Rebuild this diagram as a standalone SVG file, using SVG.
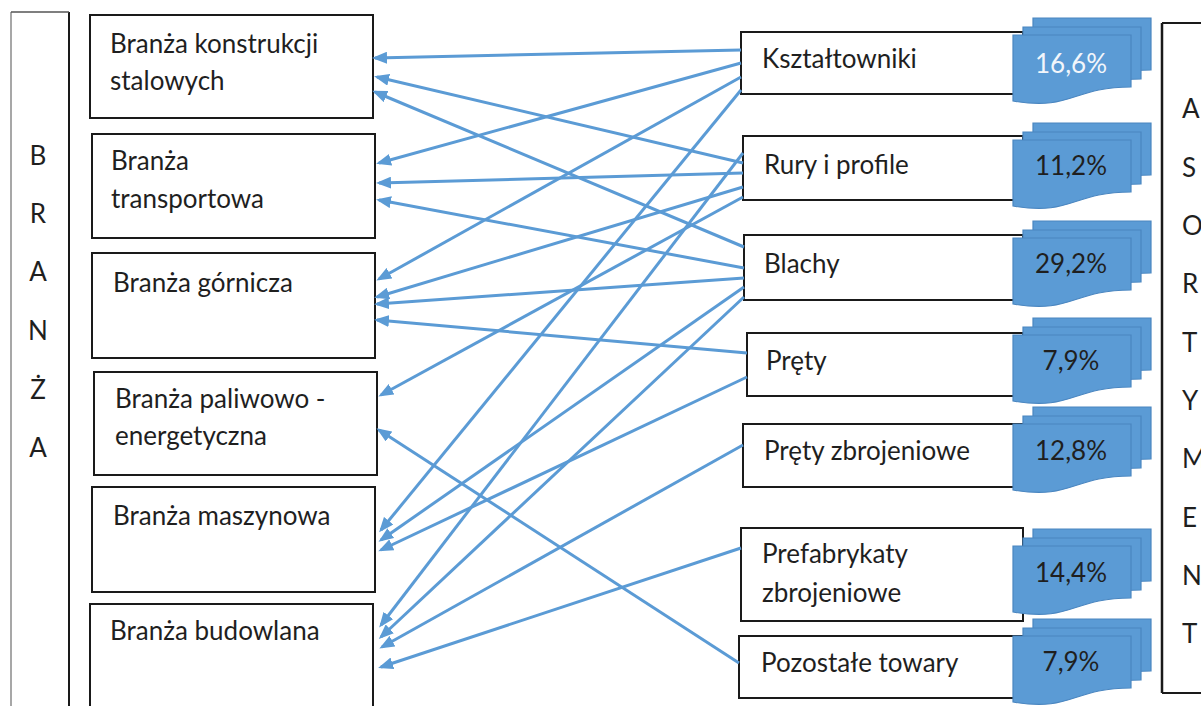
<svg xmlns="http://www.w3.org/2000/svg" xmlns:xlink="http://www.w3.org/1999/xlink" width="1201" height="706" viewBox="0 0 1201 706">
<style>
.box{fill:#fff;stroke:#1a1a1a;stroke-width:2}
.t{font-family:Lato,"Open Sans",sans-serif;font-size:26px;fill:#1f1f1f}
.c{text-anchor:middle}
.doc{fill:#5B9BD5;stroke:#4a86c0;stroke-width:1.2}
.ar{stroke:#5B9BD5;stroke-width:3;fill:none;marker-end:url(#ah)}
</style>
<defs>
<marker id="ah" markerUnits="userSpaceOnUse" markerWidth="15" markerHeight="12" refX="12" refY="6" orient="auto">
<path d="M0,0 L15,6 L0,12 Z" fill="#5B9BD5"/>
</marker>
<path id="doc" d="M0,0 H118 V52 C59,52 59,76 0,66 Z"/>
<g id="stack">
<use xlink:href="#doc" class="doc" x="20" y="-17"/>
<use xlink:href="#doc" class="doc" x="10" y="-8"/>
<use xlink:href="#doc" class="doc" x="0" y="0"/>
</g>
</defs>
<rect width="1201" height="706" fill="#fff"/>

<g id="branza">
<line x1="11" y1="12" x2="11" y2="706" stroke="#8a8a8a" stroke-width="1.5"/>
<line x1="69" y1="12" x2="69" y2="706" stroke="#1a1a1a" stroke-width="2"/>
<line x1="11" y1="12" x2="69" y2="12" stroke="#555" stroke-width="1.5"/>
<text class="t c" x="38" y="165">B</text>
<text class="t c" x="38" y="223">R</text>
<text class="t c" x="38" y="281">A</text>
<text class="t c" x="38" y="340">N</text>
<text class="t c" x="38" y="399">Ż</text>
<text class="t c" x="38" y="457">A</text>
</g>

<g id="asortyment">
<line x1="1162" y1="23" x2="1162" y2="693" stroke="#1a1a1a" stroke-width="2.5"/>
<line x1="1162" y1="23" x2="1201" y2="23" stroke="#1a1a1a" stroke-width="2"/>
<line x1="1162" y1="693" x2="1201" y2="693" stroke="#1a1a1a" stroke-width="2"/>
<text class="t" x="1182" y="118">A</text>
<text class="t" x="1182" y="177">S</text>
<text class="t" x="1182" y="235">O</text>
<text class="t" x="1182" y="293">R</text>
<text class="t" x="1182" y="352">T</text>
<text class="t" x="1182" y="410">Y</text>
<text class="t" x="1182" y="468">M</text>
<text class="t" x="1182" y="527">E</text>
<text class="t" x="1182" y="585">N</text>
<text class="t" x="1182" y="643">T</text>
</g>

<g id="b1"><rect class="box" x="90" y="15" width="283" height="103"/>
<text class="t" x="110" y="53">Branża konstrukcji</text><text class="t" x="110" y="90">stalowych</text></g>
<g id="b2"><rect class="box" x="92" y="134" width="283" height="104"/>
<text class="t" x="111" y="170">Branża</text><text class="t" x="111" y="208">transportowa</text></g>
<g id="b3"><rect class="box" x="92" y="253" width="283" height="105"/>
<text class="t" x="113" y="292">Branża górnicza</text></g>
<g id="b4"><rect class="box" x="94" y="372" width="283" height="103"/>
<text class="t" x="115" y="408">Branża paliwowo -</text><text class="t" x="115" y="445">energetyczna</text></g>
<g id="b5"><rect class="box" x="92" y="487" width="283" height="105"/>
<text class="t" x="113" y="525">Branża maszynowa</text></g>
<g id="b6"><rect class="box" x="90" y="604" width="283" height="110"/>
<text class="t" x="110" y="640">Branża budowlana</text></g>

<g id="r1"><rect class="box" x="741" y="32" width="282" height="62"/><text class="t" x="762" y="68">Kształtowniki</text>
<use xlink:href="#stack" x="1013" y="35"/><text class="t c" x="1071" y="73" style="fill:#f2f6fb">16,6%</text></g>
<g id="r2"><rect class="box" x="743" y="136" width="280" height="64"/><text class="t" x="764" y="174">Rury i profile</text>
<use xlink:href="#stack" x="1013" y="140"/><text class="t c" x="1071" y="175">11,2%</text></g>
<g id="r3"><rect class="box" x="744" y="235" width="279" height="65"/><text class="t" x="764" y="273">Blachy</text>
<use xlink:href="#stack" x="1013" y="238"/><text class="t c" x="1071" y="273">29,2%</text></g>
<g id="r4"><rect class="box" x="747" y="333" width="276" height="63"/><text class="t" x="766" y="370">Pręty</text>
<use xlink:href="#stack" x="1013" y="335"/><text class="t c" x="1071" y="370">7,9%</text></g>
<g id="r5"><rect class="box" x="743" y="424" width="280" height="63"/><text class="t" x="764" y="460">Pręty zbrojeniowe</text>
<use xlink:href="#stack" x="1013" y="424"/><text class="t c" x="1071" y="460">12,8%</text></g>
<g id="r6"><rect class="box" x="741" y="528" width="282" height="93"/><text class="t" x="762" y="563">Prefabrykaty</text><text class="t" x="762" y="602">zbrojeniowe</text>
<use xlink:href="#stack" x="1013" y="546"/><text class="t c" x="1071" y="582">14,4%</text></g>
<g id="r7"><rect class="box" x="739" y="636" width="284" height="62"/><text class="t" x="761" y="672">Pozostałe towary</text>
<use xlink:href="#stack" x="1013" y="636"/><text class="t c" x="1071" y="671">7,9%</text></g>

<g id="connectors">
<line class="ar" x1="741" y1="50" x2="375" y2="58"/>
<line class="ar" x1="743" y1="163" x2="377" y2="77"/>
<line class="ar" x1="744" y1="247" x2="375" y2="92"/>
<line class="ar" x1="741" y1="63" x2="379" y2="163"/>
<line class="ar" x1="743" y1="173" x2="379" y2="183"/>
<line class="ar" x1="744" y1="268" x2="379" y2="200"/>
<line class="ar" x1="741" y1="77" x2="379" y2="279"/>
<line class="ar" x1="743" y1="187" x2="377" y2="297"/>
<line class="ar" x1="744" y1="278" x2="377" y2="304"/>
<line class="ar" x1="747" y1="353" x2="377" y2="320"/>
<line class="ar" x1="743" y1="197" x2="381" y2="395"/>
<line class="ar" x1="739" y1="663" x2="379" y2="430"/>
<line class="ar" x1="741" y1="90" x2="381" y2="530"/>
<line class="ar" x1="744" y1="287" x2="381" y2="540"/>
<line class="ar" x1="747" y1="377" x2="381" y2="550"/>
<line class="ar" x1="743" y1="153" x2="381" y2="625"/>
<line class="ar" x1="744" y1="297" x2="381" y2="637"/>
<line class="ar" x1="743" y1="445" x2="382" y2="647"/>
<line class="ar" x1="741" y1="548" x2="381" y2="667"/>
</g>
</svg>
